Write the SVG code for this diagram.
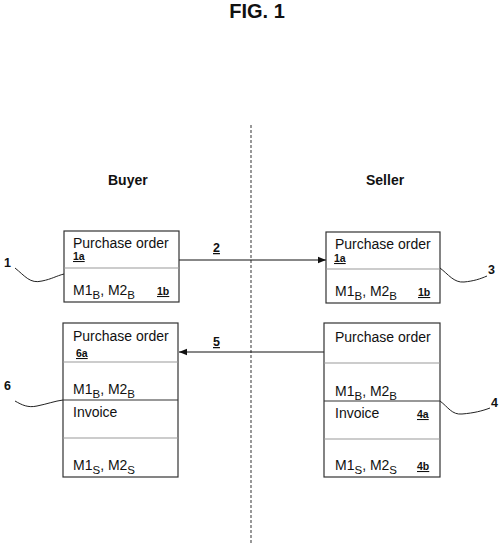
<svg xmlns="http://www.w3.org/2000/svg" width="500" height="549" viewBox="0 0 500 549">
<defs>
<marker id="ah" markerWidth="8" markerHeight="8" refX="8" refY="4" orient="auto" markerUnits="userSpaceOnUse">
<path d="M0,0.8 L8,4 L0,7.2 Z" fill="#111"/>
</marker>
</defs>
<style>
text{font-family:"Liberation Sans",Arial,sans-serif;fill:#111}
.t{font-size:14px}
.sub{font-size:11.5px}
.h{font-size:14px;font-weight:bold}
.ref{font-size:10.5px;font-weight:bold;text-decoration:underline}
.lbl{font-size:12.5px;font-weight:bold}
.box{fill:none;stroke:#333;stroke-width:1.2}
.div{stroke:#999;stroke-width:1}
.sdiv{stroke:#333;stroke-width:1.2}
.lead{fill:none;stroke:#222;stroke-width:1}
.conn{stroke:#111;stroke-width:1;fill:none}
</style>
<rect width="500" height="549" fill="#fff"/>
<text x="257" y="18" text-anchor="middle" style="font-size:20px;font-weight:bold">FIG. 1</text>
<line x1="251" y1="125" x2="251" y2="543" stroke="#555" stroke-width="1.2" stroke-dasharray="3 2"/>
<text class="h" x="108" y="185">Buyer</text>
<text class="h" x="366" y="185">Seller</text>

<g id="connectors">
<line class="conn" x1="179" y1="260" x2="326" y2="260" marker-end="url(#ah)"/>
<text class="lbl" x="213" y="252" text-decoration="underline">2</text>
<line class="conn" x1="324" y1="352" x2="179" y2="352" marker-end="url(#ah)"/>
<text class="lbl" x="213" y="346" text-decoration="underline">5</text>
</g>

<g id="node1">
<rect class="box" x="64" y="231" width="115" height="71"/>
<line class="div" x1="64" y1="268" x2="179" y2="268"/>
<text class="t" x="73" y="248">Purchase order</text>
<text class="ref" x="73" y="260">1a</text>
<text class="t" x="73" y="295">M1<tspan class="sub" dy="4">B</tspan><tspan dy="-4">, M2</tspan><tspan class="sub" dy="4">B</tspan></text>
<text class="ref" x="157" y="295">1b</text>
<path class="lead" d="M15,268 C25,276 30,284 42,281 C52,279 56,276 64,274"/>
<text class="lbl" x="4" y="267">1</text>
</g>

<g id="node3">
<rect class="box" x="326" y="232" width="114" height="71"/>
<line class="div" x1="326" y1="269" x2="440" y2="269"/>
<text class="t" x="335" y="249">Purchase order</text>
<text class="ref" x="334" y="262">1a</text>
<text class="t" x="335" y="296">M1<tspan class="sub" dy="4">B</tspan><tspan dy="-4">, M2</tspan><tspan class="sub" dy="4">B</tspan></text>
<text class="ref" x="418" y="296">1b</text>
<path class="lead" d="M440,268 C448,274 454,283 464,282 C474,281 480,279 487,276"/>
<text class="lbl" x="488" y="274">3</text>
</g>

<g id="node6">
<rect class="box" x="63" y="323" width="115" height="154"/>
<line class="div" x1="63" y1="362" x2="178" y2="362"/>
<line class="sdiv" x1="63" y1="400" x2="178" y2="400"/>
<line class="div" x1="63" y1="438" x2="178" y2="438"/>
<text class="t" x="73" y="341">Purchase order</text>
<text class="ref" x="76" y="357">6a</text>
<text class="t" x="73" y="394">M1<tspan class="sub" dy="4">B</tspan><tspan dy="-4">, M2</tspan><tspan class="sub" dy="4">B</tspan></text>
<text class="t" x="73" y="417">Invoice</text>
<text class="t" x="73" y="470">M1<tspan class="sub" dy="4">S</tspan><tspan dy="-4">, M2</tspan><tspan class="sub" dy="4">S</tspan></text>
<path class="lead" d="M15,401 C22,405 28,408 37,406 C47,404 55,401 63,400"/>
<text class="lbl" x="4" y="390">6</text>
</g>

<g id="node4">
<rect class="box" x="324" y="323" width="116" height="154"/>
<line class="div" x1="324" y1="363" x2="440" y2="363"/>
<line class="sdiv" x1="324" y1="401" x2="440" y2="401"/>
<line class="div" x1="324" y1="439" x2="440" y2="439"/>
<text class="t" x="335" y="342">Purchase order</text>
<text class="t" x="335" y="396">M1<tspan class="sub" dy="4">B</tspan><tspan dy="-4">, M2</tspan><tspan class="sub" dy="4">B</tspan></text>
<text class="t" x="335" y="418">Invoice</text>
<text class="ref" x="417" y="418">4a</text>
<text class="t" x="335" y="470">M1<tspan class="sub" dy="4">S</tspan><tspan dy="-4">, M2</tspan><tspan class="sub" dy="4">S</tspan></text>
<text class="ref" x="417" y="470">4b</text>
<path class="lead" d="M440,401 C448,407 452,415 462,414 C474,413 482,411 490,408"/>
<text class="lbl" x="491" y="407">4</text>
</g>
</svg>
